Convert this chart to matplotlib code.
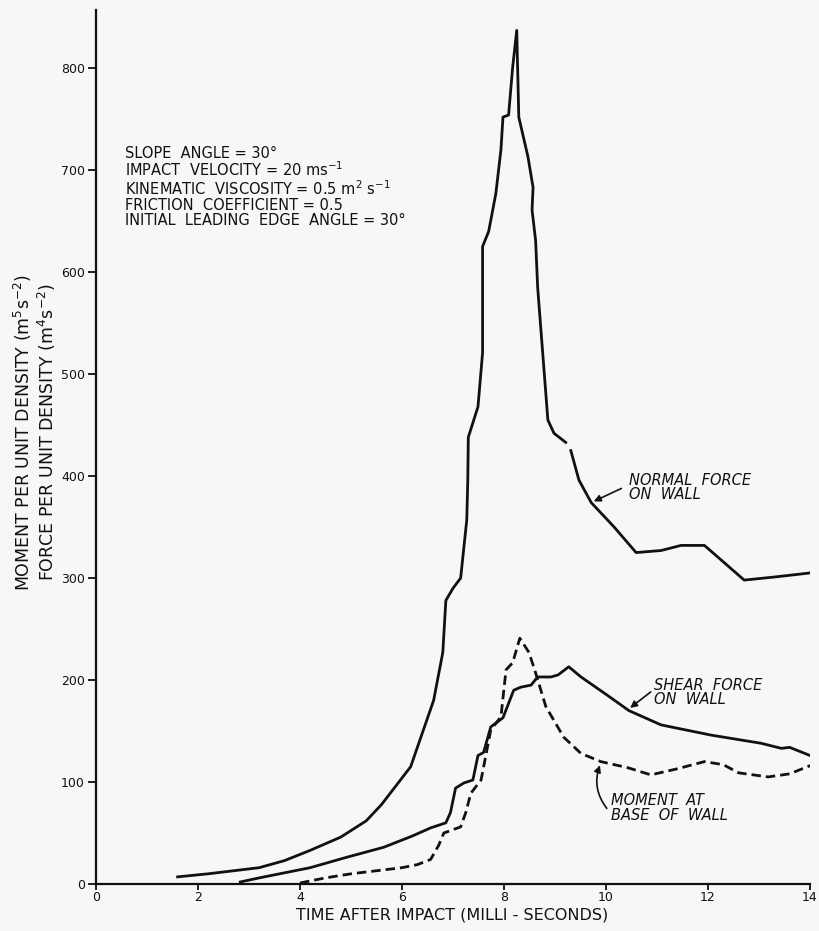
import matplotlib
matplotlib.use("Agg")
import matplotlib.pyplot as plt
import numpy as np

# values (time in ms, value per unit density)
normal_t = [1.6, 2.2, 2.7, 3.2, 3.7, 4.2, 4.8, 5.3, 5.6, 6.17, 6.62, 6.8, 6.86,
            7.0, 7.15, 7.27, 7.29, 7.3, 7.49, 7.58, 7.58, 7.7, 7.84, 7.94, 7.98,
            8.09, 8.17, 8.25, 8.29, 8.47, 8.57, 8.55, 8.62, 8.66, 8.76, 8.86,
            8.98, 9.21, np.nan, 9.31, 9.47, 9.71, 10.16, 10.59, 11.08, 11.47,
            11.93, 12.71, 13.3, 14.0]
normal_v = [7, 10, 13, 16, 23, 33, 46, 62, 78, 115, 180, 227, 278,
            290, 300, 357, 396, 438, 468, 521, 625, 640, 677, 720, 752,
            754, 801, 837, 752, 713, 683, 661, 631, 585, 520, 455,
            442, 433, np.nan, 425, 396, 374, 350, 325, 327, 332,
            332, 298, 301, 305]

shear_t = [2.83, 3.2, 3.7, 4.2, 4.9, 5.64, 6.2, 6.56, 6.86, 6.95, 7.05, 7.21,
           7.39, 7.49, 7.6, 7.74, 7.98, 8.19, 8.33, 8.53, 8.66, 8.92, 9.06,
           9.27, 9.51, 10.0, 10.45, 11.08, 12.06, 13.04, 13.44, 13.6, 14.05]
shear_v = [2, 6, 11, 16, 26, 36, 47, 55, 60, 70, 94, 99,
           102, 126, 129, 154, 163, 190, 193, 195, 203, 203, 205,
           213, 203, 186, 170, 156, 146, 138, 133, 134, 125]

moment_t = [4.0, 4.5, 5.0, 5.5, 6.0, 6.3, 6.56, 6.72, 6.82, 7.15, 7.25, 7.35,
            7.55, 7.64, 7.74, 7.94, 8.04, 8.17, 8.31, 8.49, 8.62, 8.82, 9.17,
            9.51, 9.9, 10.43, 10.88, 11.4, 11.93, 12.3, 12.6, 13.18, 13.6, 14.05]
moment_v = [1, 6, 10, 13, 16, 19, 24, 38, 50, 56, 70, 89,
            102, 125, 151, 164, 210, 217, 241, 227, 207, 174, 144,
            128, 120, 114, 107, 113, 120, 117, 109, 105, 108, 117]

x_ticks = list(range(0, 15, 2))
y_ticks = list(range(0, 801, 100))

params = ("SLOPE  ANGLE = 30\u00b0\n"
          "IMPACT  VELOCITY = 20 ms$^{-1}$\n"
          "KINEMATIC  VISCOSITY = 0.5 m$^{2}$ s$^{-1}$\n"
          "FRICTION  COEFFICIENT = 0.5\n"
          "INITIAL  LEADING  EDGE  ANGLE = 30\u00b0")

INK = "#111111"
LW = 2.0

fig = plt.figure(figsize=(8.19, 9.31), dpi=100)
fig.patch.set_facecolor("#f7f8f5")
ax = fig.add_axes([96 / 819, 47 / 931, 714 / 819, 874 / 931])
ax.set_facecolor("none")

ax.plot(normal_t, normal_v, color=INK, lw=LW, solid_joinstyle="round")
ax.plot(shear_t, shear_v, color=INK, lw=LW, solid_joinstyle="round")
ax.plot(moment_t, moment_v, color=INK, lw=LW, linestyle=(0, (3.4, 1.8)))

ax.set_xlim(0, 14)
ax.set_ylim(0, 857)
for side in ["top", "right"]:
    ax.spines[side].set_visible(False)
for side in ["left", "bottom"]:
    ax.spines[side].set_linewidth(1.6)
    ax.spines[side].set_color(INK)
ax.set_xticks(x_ticks)
ax.set_yticks(y_ticks)
ax.tick_params(direction="out", width=1.3, labelsize=9, colors=INK)
ax.tick_params(axis="y", length=6, pad=2)
ax.tick_params(axis="x", length=4, pad=1)

# curve labels
arrow = dict(arrowstyle="-|>", color=INK, lw=1.2, mutation_scale=10)
ax.text(10.45, 403, "NORMAL  FORCE\nON  WALL", style="italic", fontsize=10.5,
        va="top", ha="left", linespacing=0.95, color=INK)
ax.annotate("", xy=(9.71, 374), xytext=(10.35, 389), arrowprops=arrow)

ax.text(10.94, 202, "SHEAR  FORCE\nON  WALL", style="italic", fontsize=10.5,
        va="top", ha="left", linespacing=0.95, color=INK)
ax.annotate("", xy=(10.43, 171), xytext=(10.92, 190), arrowprops=arrow)

ax.text(10.1, 89, "MOMENT  AT\nBASE  OF  WALL", style="italic", fontsize=10.5,
        va="top", ha="left", linespacing=0.95, color=INK)
ax.annotate("", xy=(9.9, 119), xytext=(10.05, 72),
            arrowprops=dict(arrow, connectionstyle="arc3,rad=-0.3"))

ax.text(0.57, 724, params, fontsize=10.5, va="top", ha="left",
        linespacing=1.0, color=INK)

fig.text(35 / 819, 1 - 432 / 931,
         "MOMENT PER UNIT DENSITY (m$^5$s$^{-2}$)\n"
         "FORCE PER UNIT DENSITY (m$^4$s$^{-2}$)",
         rotation=90, ha="center", va="center", fontsize=12.5,
         multialignment="center", linespacing=1.1, color=INK)
fig.text(452 / 819, 1 - 915 / 931, "TIME AFTER IMPACT (MILLI - SECONDS)",
         ha="center", va="center", fontsize=11.5, color=INK)

fig.savefig("out.png", dpi=100, facecolor=fig.get_facecolor())
